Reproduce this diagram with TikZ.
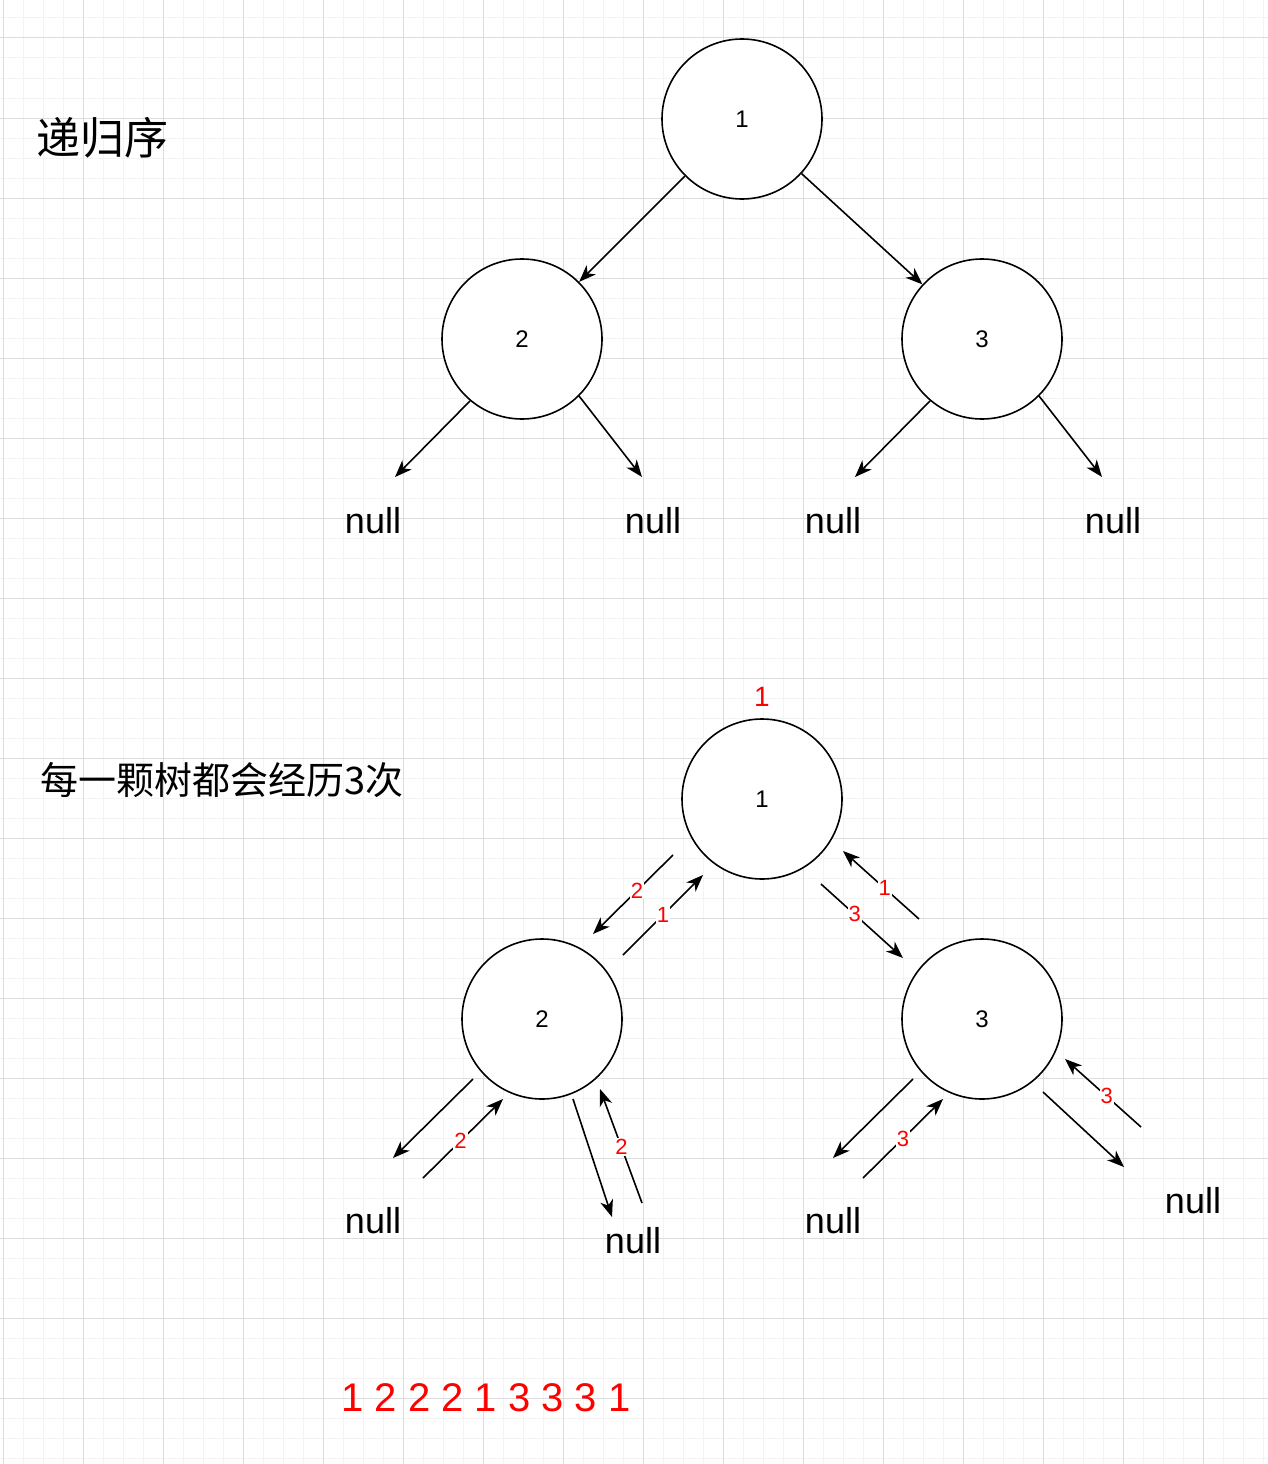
\documentclass[tikz,border=0pt]{standalone}
\usepackage{fontspec}
\setmainfont{Liberation Sans}
\newfontfamily\cjk{Noto Sans CJK SC}
\usetikzlibrary{positioning,arrows.meta}
\definecolor{gridmajor}{HTML}{DCDCDC}
\definecolor{gridminor}{HTML}{F3F3F3}

\begin{document}
\begin{tikzpicture}[x=1pt, y=-1pt, on grid]
    \tikzstyle{treenode} = [circle, draw, line width=1.6pt, fill=white, minimum size=160pt, inner sep=0pt, font=\fontsize{24}{24}\selectfont]
    \tikzstyle{nullnode} = [inner sep=0pt, font=\fontsize{36}{36}\selectfont]
    \tikzstyle{arrow} = [line width=1.6pt, -{Stealth[length=17pt, width=13pt, inset=5pt]}]
    \tikzstyle{visit} = [text=red, fill=white, inner sep=1pt, font=\fontsize{22}{22}\selectfont]
    \tikzstyle{heading} = [anchor=base west, inner sep=0pt]

    \useasboundingbox (0,0) rectangle (1268,1464);
    \fill[white] (0,0) rectangle (1268,1464);
    \foreach \x in {3,23,...,1263} \draw[gridminor, line width=1pt] (\x,0) -- (\x,1464);
    \foreach \y in {18,38,...,1458} \draw[gridminor, line width=1pt] (0,\y) -- (1268,\y);
    \foreach \x in {3,83,...,1243} \draw[gridmajor, line width=1pt] (\x,0) -- (\x,1464);
    \foreach \y in {38,118,...,1398} \draw[gridmajor, line width=1pt] (0,\y) -- (1268,\y);

    \node [heading, font=\cjk\fontsize{44}{44}\selectfont] (title1) at (36,154) {递归序};
    \node [heading, font=\cjk\fontsize{38}{38}\selectfont] (title2) at (40,794) {每一颗树都会经历3次};

    \node [treenode] (a1) at (742,119) {1};
    \node [treenode, below left=220pt and 220pt of a1] (a2) {2};
    \node [treenode, below right=220pt and 240pt of a1] (a3) {3};
    \node [nullnode, below left=182pt and 149pt of a2] (na1) {null};
    \node [nullnode, below right=182pt and 131pt of a2] (na2) {null};
    \node [nullnode, below left=182pt and 149pt of a3] (na3) {null};
    \node [nullnode, below right=182pt and 131pt of a3] (na4) {null};
    \coordinate (ta1) at (395,477);
    \coordinate (ta2) at (642,477);
    \coordinate (ta3) at (855,477);
    \coordinate (ta4) at (1102,477);

    \draw [arrow] (a1) -- (a2);
    \draw [arrow] (a1) -- (a3);
    \draw [arrow] (a2.230) -- (ta1);
    \draw [arrow] (a2.315) -- (ta2);
    \draw [arrow] (a3.230) -- (ta3);
    \draw [arrow] (a3.315) -- (ta4);

    \node [treenode] (b1) at (762,799) {1};
    \node [treenode, below left=220pt and 220pt of b1] (b2) {2};
    \node [treenode, below right=220pt and 220pt of b1] (b3) {3};
    \node [text=red, font=\fontsize{28}{28}\selectfont, above=102pt of b1] (first) {1};
    \node [nullnode, below left=202pt and 169pt of b2] (nb1) {null};
    \node [nullnode, below right=222pt and 91pt of b2] (nb2) {null};
    \node [nullnode, below left=202pt and 149pt of b3] (nb3) {null};
    \node [nullnode, below right=182pt and 211pt of b3] (nb4) {null};
    \node [text=red, font=\fontsize{40}{40}\selectfont] (order) at (486,1398) {1 2 2 2 1 3 3 3 1};

    \coordinate (d1s) at (673,855);   \coordinate (d1e) at (593,934);
    \coordinate (d2s) at (623,955);   \coordinate (d2e) at (703,875);
    \coordinate (d3s) at (919,919);   \coordinate (d3e) at (843,851);
    \coordinate (d4s) at (821,884);   \coordinate (d4e) at (903,958);
    \coordinate (d5s) at (473,1079);  \coordinate (d5e) at (393,1158);
    \coordinate (d6s) at (423,1178);  \coordinate (d6e) at (503,1099);
    \coordinate (d7s) at (573,1099);  \coordinate (d7e) at (612,1217);
    \coordinate (d8s) at (642,1203);  \coordinate (d8e) at (600,1089);
    \coordinate (d9s) at (913,1079);  \coordinate (d9e) at (833,1158);
    \coordinate (d10s) at (863,1178); \coordinate (d10e) at (943,1099);
    \coordinate (d11s) at (1043,1092); \coordinate (d11e) at (1124,1167);
    \coordinate (d12s) at (1141,1127); \coordinate (d12e) at (1065,1059);

    \draw [arrow] (d1s) -- node[visit, pos=0.45] {2} (d1e);
    \draw [arrow] (d2s) -- node[visit, pos=0.5] {1} (d2e);
    \draw [arrow] (d3s) -- node[visit, pos=0.45] {1} (d3e);
    \draw [arrow] (d4s) -- node[visit, pos=0.41] {3} (d4e);
    \draw [arrow] (d5s) -- (d5e);
    \draw [arrow] (d6s) -- node[visit, pos=0.47] {2} (d6e);
    \draw [arrow] (d7s) -- (d7e);
    \draw [arrow] (d8s) -- node[visit, pos=0.49] {2} (d8e);
    \draw [arrow] (d9s) -- (d9e);
    \draw [arrow] (d10s) -- node[visit, pos=0.5] {3} (d10e);
    \draw [arrow] (d11s) -- (d11e);
    \draw [arrow] (d12s) -- node[visit, pos=0.45] {3} (d12e);
\end{tikzpicture}
\end{document}
